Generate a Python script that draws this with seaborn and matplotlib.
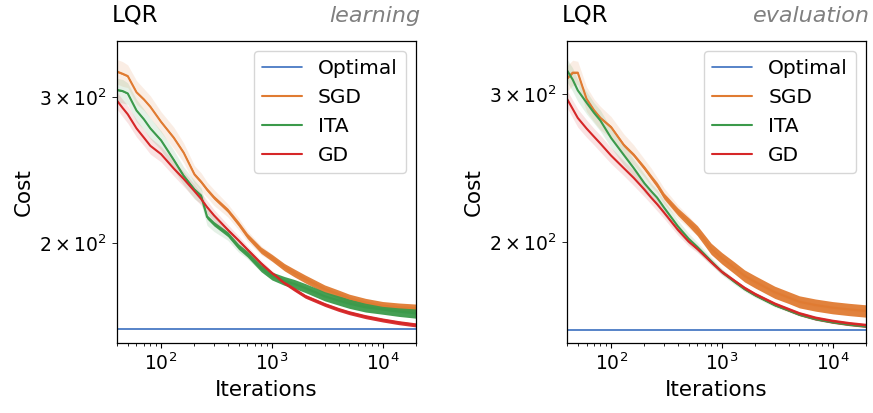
import numpy as np
import pandas as pd
import matplotlib
matplotlib.use("Agg")
import matplotlib.pyplot as plt
import seaborn as sns

iters = [40, 45, 50, 60, 70, 80, 100, 130, 160, 200, 230, 260, 300, 400, 500,
         600, 800, 1000, 1300, 1600, 2000, 3000, 4000, 5000, 7000, 10000, 14000, 20000]

optimal_cost = 157.5

# learning panel
learn_sgd = [322, 320, 318, 304, 298, 292, 280, 268, 257, 242, 237, 232, 227, 219, 211,
             204, 196, 192, 187, 184, 181, 176, 173.5, 171.5, 169.5, 168, 167.3, 166.8]
learn_ita = [306, 305, 303, 289, 282, 275, 266, 252, 241, 232, 228, 215, 211, 205, 198,
             194, 186.5, 182.5, 180, 178.5, 176.5, 172.5, 170.5, 169, 167.3, 166.3, 165.3, 164.5]
learn_gd = [297, 291, 286, 275, 268, 262, 256, 246, 239, 231, 226, 221, 216, 207.5, 201.5,
            196.5, 189, 184, 179, 175.8, 172.5, 168.6, 166.3, 164.8, 163, 161.5, 160.3, 159.3]

# evaluation panel
eval_sgd = [313, 318, 318, 296, 287, 281, 274, 261, 254, 245, 239, 234, 227, 217.5, 211.5,
            206.5, 196.5, 191.5, 186.5, 182.5, 179.5, 174.5, 172, 170, 168.5, 167.3, 166.5, 165.8]
eval_ita = [320, 312, 303, 293, 285, 279, 266, 254, 245, 235, 230, 226, 220, 209, 202,
            197.5, 190, 184.5, 179.5, 176, 173, 168.4, 166, 164.1, 162.1, 160.7, 159.7, 158.9]
eval_gd = [296, 288, 281, 273, 267, 262, 253.5, 245, 238.5, 231, 226, 222, 217, 207, 200.5,
           196.5, 189.5, 184.5, 180, 176.5, 173.5, 169, 166.5, 164.6, 162.6, 161.2, 160.2, 159.4]

# half-width of the shaded confidence band
ci_sgd = [11, 11, 10, 10, 9, 9, 8, 8, 7, 6, 6, 5, 5, 4, 3.5,
          3, 2.5, 2, 1.6, 1.4, 1.2, 1, 1, 0.9, 0.8, 0.8, 0.8, 0.8]
ci_ita = [10, 10, 9, 9, 8, 8, 7, 7, 6, 6, 5, 5, 4.5, 3.5, 3,
          2.5, 2, 1.6, 1.3, 1.1, 1, 0.8, 0.7, 0.6, 0.6, 0.5, 0.5, 0.5]
ci_gd = [7, 7, 7, 6.5, 6, 6, 5.5, 5, 5, 4.5, 4, 4, 3.5, 3, 2.5,
         2, 1.6, 1.3, 1, 0.9, 0.8, 0.6, 0.5, 0.5, 0.4, 0.4, 0.4, 0.4]

# half-width of the dense step-to-step jitter
learn_jit = {"SGD": [0.8, 0.8, 0.8, 0.8, 0.8, 0.8, 0.8, 0.8, 0.9, 1.0, 1.0, 1.1, 1.2, 1.3, 1.4,
                     1.5, 1.7, 1.8, 1.9, 2.0, 2.0, 2.0, 2.0, 2.0, 2.0, 2.0, 2.0, 2.0],
             "ITA": [0.6, 0.6, 0.6, 0.6, 0.6, 0.6, 0.6, 0.7, 0.8, 0.9, 1.0, 1.2, 1.3, 1.4, 1.5,
                     1.6, 1.8, 2.0, 2.2, 2.2, 2.2, 2.2, 2.2, 2.2, 2.2, 2.2, 2.2, 2.2],
             "GD": [0.3, 0.3, 0.3, 0.3, 0.3, 0.3, 0.3, 0.3, 0.4, 0.4, 0.4, 0.5, 0.5, 0.6, 0.6,
                    0.7, 0.7, 0.8, 0.8, 0.9, 0.9, 0.9, 0.9, 0.9, 0.9, 0.9, 0.9, 0.9]}
eval_jit = {"SGD": [0.8, 0.8, 0.8, 0.8, 0.8, 0.8, 1.0, 1.1, 1.2, 1.4, 1.5, 1.7, 1.9, 2.2, 2.5,
                    2.8, 3.0, 3.0, 3.0, 3.0, 3.0, 2.9, 2.8, 2.8, 2.8, 2.8, 2.8, 2.8],
            "ITA": [0.2] * 28,
            "GD": [0.3, 0.3, 0.3, 0.3, 0.3, 0.3, 0.3, 0.3, 0.4, 0.4, 0.4, 0.5, 0.5, 0.6, 0.6,
                   0.7, 0.7, 0.8, 0.8, 0.9, 0.9, 0.9, 0.9, 0.9, 0.9, 0.9, 0.9, 0.9]}

methods = ["SGD", "ITA", "GD"]
colors = {"Optimal": "#3a6ebf", "SGD": "#e07b32", "ITA": "#3b9a4b", "GD": "#d62728"}
ci = {"SGD": ci_sgd, "ITA": ci_ita, "GD": ci_gd}

panels = [
    ("learning", {"SGD": learn_sgd, "ITA": learn_ita, "GD": learn_gd}, learn_jit, (151.5, 350.5)),
    ("evaluation", {"SGD": eval_sgd, "ITA": eval_ita, "GD": eval_gd}, eval_jit, (151.9, 346.7)),
]

sns.set_style("ticks", {"axes.edgecolor": "black", "xtick.color": "black",
                        "ytick.color": "black", "text.color": "black",
                        "axes.labelcolor": "black"})
plt.rcParams["font.family"] = ["DejaVu Sans"]

fig = plt.figure(figsize=(8.73, 4.13), dpi=100)
lefts = [0.134, 0.6495]

for left, (tag, curves, jit, ylim) in zip(lefts, panels):
    ax = fig.add_axes([left, 0.1695, 0.3425, 0.7312])
    x = np.array(iters, dtype=float)

    opt = pd.DataFrame({"Iterations": x, "Cost": optimal_cost})
    sns.lineplot(data=opt, x="Iterations", y="Cost", color=colors["Optimal"],
                 linewidth=1.2, label="Optimal", ax=ax, legend=False)

    for m in methods:
        y = np.array(curves[m])
        band = np.array(ci[m])
        jt = np.array(jit[m])
        ax.fill_between(x, y - band, y + band, color=colors[m], alpha=0.13, linewidth=0)
        ax.fill_between(x, y - jt, y + jt, color=colors[m], alpha=0.95, linewidth=0)
        df = pd.DataFrame({"Iterations": x, "Cost": y})
        sns.lineplot(data=df, x="Iterations", y="Cost", color=colors[m],
                     linewidth=1.5, label=m, ax=ax, legend=False)

    ax.set_xscale("log")
    ax.set_yscale("log")
    ax.set_xlim(40, 20000)
    ax.set_ylim(*ylim)
    ax.tick_params(which="both", labelsize=13.5)
    ax.tick_params(which="minor", length=2.5)
    ax.tick_params(axis="y", which="minor", length=3.5)
    ax.set_xlabel("Iterations", fontsize=15.5)
    ax.set_ylabel("Cost", fontsize=15.5)
    for s in ax.spines.values():
        s.set_visible(True)
        s.set_linewidth(0.9)

    ax.text(-0.018, 1.063, "LQR", transform=ax.transAxes, fontsize=16.5,
            ha="left", va="baseline")
    ax.text(1.013, 1.063, tag, transform=ax.transAxes, fontsize=16, style="italic",
            color="gray", ha="right", va="baseline")

    handles = ax.get_lines()[:4]
    ax.legend(handles, ["Optimal", "SGD", "ITA", "GD"], loc="upper right",
              fontsize=14.5, labelspacing=0.5)

fig.savefig("out.png", dpi=100)
